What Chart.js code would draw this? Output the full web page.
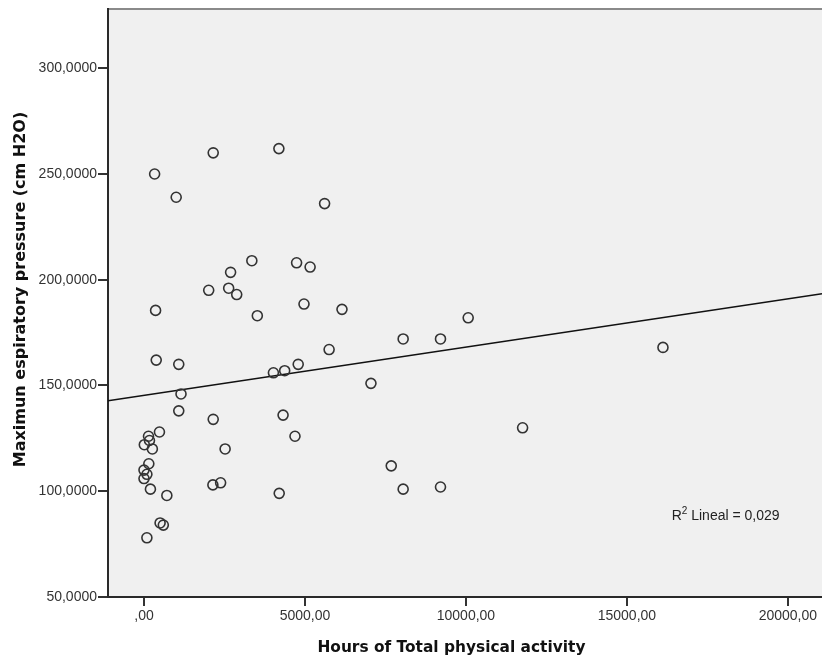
<!DOCTYPE html>
<html>
<head>
<meta charset="utf-8">
<title>Maximun espiratory pressure vs Hours of Total physical activity</title>
<script src="https://cdn.jsdelivr.net/npm/chart.js@4.4.1/dist/chart.umd.min.js"></script>
<style>
  html, body { margin: 0; padding: 0; background: #fff; }
  #wrap { width: 822px; height: 661px; }
</style>
</head>
<body>
<div id="wrap"><canvas id="scatter" width="822" height="661"></canvas></div>
<script>
// --- data ---
const hours = [
  330, 2150, 4190, 1000, 5610, 3350, 4740, 5160, 2690, 2010,
  2630, 2880, 4970, 360, 6150, 3520, 8050, 5750, 380, 1080,
  4790, 4370, 4020, 7050, 1150, 1080, 4320, 2150, 480, 4690,
  140, 170, 10, 260, 2520, 7680, 150, 0, 90, 0,
  200, 2140, 2380, 8050, 4200, 710, 500, 600, 90, 9210,
  10070, 16120, 11760, 9210
];
const pressure = [
  250, 260, 262, 239, 236, 209, 208, 206, 203.5, 195,
  196, 193, 188.5, 185.5, 186, 183, 172, 167, 162, 160,
  160, 157, 156, 151, 146, 138, 136, 134, 128, 126,
  126, 124, 122, 120, 120, 112, 113, 110, 108, 106,
  101, 103, 104, 101, 99, 98, 85, 84, 78, 172,
  182, 168, 130, 102
];

// linear fit line (ends read at the plot edges)
const fitX = [-1118, 21060];
const fitY = [142.8, 193.4];
const r2Text = '0,029';

const xTicks = [0, 5000, 10000, 15000, 20000];
const yTicks = [50, 100, 150, 200, 250, 300];
const xRange = [-1118, 21060];
const yRange = [50, 328];

const xTitle = 'Hours of Total physical activity';
const yTitle = 'Maximun espiratory pressure (cm H2O)';

const FONT = 'Liberation Sans, Arial, sans-serif';
const TITLE_FAMILY = '"DejaVu Sans", Verdana, sans-serif';

// plot background, top frame line, axis titles, R² label
const spssFrame = {
  id: 'spssFrame',
  beforeDraw(chart) {
    const { ctx, chartArea: a } = chart;
    ctx.save();
    ctx.fillStyle = '#f0f0f0';
    ctx.fillRect(a.left, a.top, a.right - a.left, a.bottom - a.top);
    ctx.strokeStyle = '#8a8a8a';
    ctx.lineWidth = 2;
    ctx.beginPath();
    ctx.moveTo(a.left, a.top);
    ctx.lineTo(a.right, a.top);
    ctx.stroke();
    ctx.restore();
  },
  afterDraw(chart) {
    const { ctx, scales, chartArea: a } = chart;
    ctx.save();
    // axis titles (SPSS puts them a bit off the plot centre)
    ctx.fillStyle = '#111';
    ctx.textAlign = 'center';
    ctx.textBaseline = 'middle';
    ctx.font = 'bold 15.4px ' + TITLE_FAMILY;
    ctx.fillText(xTitle, a.left + (a.right - a.left) * 0.481, chart.height - 13);
    ctx.save();
    ctx.font = 'bold 16px ' + TITLE_FAMILY;
    ctx.translate(20.5, a.top + (a.bottom - a.top) * 0.477);
    ctx.rotate(-Math.PI / 2);
    ctx.fillText(yTitle, 0, 0);
    ctx.restore();

    // R² label
    const x = scales.x.getPixelForValue(16390);
    const y = scales.y.getPixelForValue(86.4);
    ctx.fillStyle = '#222';
    ctx.textAlign = 'left';
    ctx.textBaseline = 'alphabetic';
    ctx.font = '14px ' + FONT;
    ctx.fillText('R', x, y);
    let w = ctx.measureText('R').width;
    ctx.font = '10px ' + FONT;
    ctx.fillText('2', x + w, y - 6);
    w += ctx.measureText('2').width;
    ctx.font = '14px ' + FONT;
    ctx.fillText(' Lineal = ' + r2Text, x + w, y);
    ctx.restore();
  }
};

function fmtY(v) { return v.toFixed(4).replace('.', ','); }
function fmtX(v) { return v === 0 ? ',00' : v.toFixed(2).replace('.', ','); }

new Chart(document.getElementById('scatter'), {
  type: 'scatter',
  data: {
    datasets: [
      {
        label: 'cases',
        data: hours.map((h, i) => ({ x: h, y: pressure[i] })),
        pointStyle: 'circle',
        pointRadius: 5,
        borderWidth: 1.6,
        borderColor: '#333',
        backgroundColor: 'rgba(0,0,0,0)',
        order: 1,
      },
      {
        type: 'line',
        label: 'fit',
        data: fitX.map((x, i) => ({ x, y: fitY[i] })),
        borderColor: '#111',
        borderWidth: 1.6,
        pointRadius: 0,
        fill: false,
        order: 2,
      }
    ]
  },
  options: {
    responsive: false,
    animation: false,
    layout: { autoPadding: false, padding: { top: 9, right: 0, left: 0, bottom: 0 } },
    plugins: {
      legend: { display: false },
      tooltip: { enabled: false },
    },
    scales: {
      x: {
        type: 'linear',
        min: xRange[0],
        max: xRange[1],
        afterFit: s => { s.height = 64; s.paddingLeft = 0; s.paddingRight = 0; },
        afterBuildTicks: s => { s.ticks = xTicks.map(v => ({ value: v })); },
        ticks: {
          callback: v => fmtX(v),
          font: { family: FONT, size: 14 },
          color: '#333',
          padding: 2,
          maxRotation: 0,
        },
        grid: { drawOnChartArea: false, drawTicks: true, tickLength: 9, color: '#333', lineWidth: 2 },
        border: { display: true, color: '#2a2a2a', width: 2 },
        title: { display: false },
      },
      y: {
        type: 'linear',
        min: yRange[0],
        max: yRange[1],
        afterFit: s => { s.width = 108; s.paddingTop = 0; s.paddingBottom = 0; },
        afterBuildTicks: s => { s.ticks = yTicks.map(v => ({ value: v })); },
        ticks: {
          callback: v => fmtY(v),
          font: { family: FONT, size: 14 },
          color: '#333',
          padding: 1,
        },
        grid: { drawOnChartArea: false, drawTicks: true, tickLength: 10, color: '#333', lineWidth: 2 },
        border: { display: true, color: '#2a2a2a', width: 2 },
        title: { display: false },
      }
    }
  },
  plugins: [spssFrame]
});
</script>
</body>
</html>
